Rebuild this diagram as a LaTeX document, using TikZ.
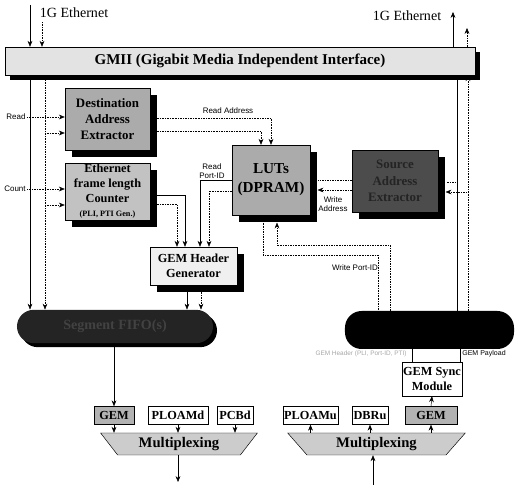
\documentclass[tikz,border=0pt]{standalone}
\usepackage{fontspec}
\setmainfont{Liberation Serif}
\setsansfont{Liberation Sans}
\usetikzlibrary{shapes.geometric,shadows,arrows.meta}

\tikzset{
  gmiibar/.style={draw, fill=gray!22, minimum width=14.1cm, minimum height=0.84cm,
    font=\bfseries\fontsize{12.8}{14}\selectfont,
    drop shadow={shadow xshift=0.15cm, shadow yshift=-0.15cm, fill=black, opacity=1}},
  blockbox/.style={draw, align=center, inner sep=1pt, font=\bfseries\fontsize{11}{14}\selectfont,
    drop shadow={shadow xshift=0.22cm, shadow yshift=-0.22cm, fill=black, opacity=1}},
  fifo/.style={rounded corners=0.5cm, fill=black},
  smallbox/.style={draw, minimum height=0.54cm, inner sep=1pt, font=\bfseries\fontsize{10.5}{12}\selectfont},
  muxbox/.style={trapezium, draw, fill=gray!40, shape border rotate=180, trapezium angle=60,
    trapezium stretches=true, minimum height=0.66cm, font=\bfseries\fontsize{12.5}{14}\selectfont},
  sig/.style={font=\sffamily\fontsize{6.8}{7.8}\selectfont, inner sep=1pt},
  ctl/.style={densely dotted}
}

\begin{document}
\begin{tikzpicture}[x=0.03cm, y=-0.03cm, >={Stealth[length=5pt,width=4pt]}]
    \useasboundingbox (0,0) rectangle (519,486);

    % blocks
    \node[gmiibar] (gmii) at (240,61) {GMII (Gigabit Media Independent Interface)};
    \node[blockbox, fill=gray!66, minimum width=2.55cm, minimum height=1.86cm] (dae) at (107.5,119) {Destination\\Address\\Extractor};
    \node[blockbox, fill=gray!48, minimum width=2.55cm, minimum height=1.71cm, font=\bfseries\fontsize{10.5}{12.5}\selectfont] (efc) at (107.5,191.5) {Ethernet\\frame length\\Counter\\{\fontsize{7}{8}\selectfont (PLI, PTI Gen.)}};
    \node[blockbox, fill=gray!66, minimum width=2.34cm, minimum height=2.1cm, font=\bfseries\fontsize{13}{16}\selectfont] (lut) at (271,180) {LUTs\\(DPRAM)};
    \node[blockbox, fill=black!70, text=black!86, minimum width=2.58cm, minimum height=1.86cm] (sae) at (395,181) {Source\\Address\\Extractor};
    \node[blockbox, fill=gray!12, minimum width=2.61cm, minimum height=1.14cm, font=\bfseries\fontsize{10.5}{13}\selectfont] (ghg) at (193.5,266) {GEM Header\\Generator};
    \node[fifo, fill=black!86, text=black!74, minimum width=5.88cm, minimum height=1.0cm, font=\bfseries\fontsize{12}{14}\selectfont,
        drop shadow={shadow xshift=0.12cm, shadow yshift=-0.12cm, fill=black, opacity=1}] (sfifo) at (115,326.5) {Segment FIFO(s)};
    \node[fifo, minimum width=5.07cm, minimum height=1.14cm] (rfifo) at (429.5,330) {};

    % left output side
    \node[smallbox, fill=gray!60, minimum width=1.2cm] (gemL) at (114,415.5) {GEM};
    \node[smallbox, minimum width=1.8cm] (ploamd) at (178,415.5) {PLOAMd};
    \node[smallbox, minimum width=1.08cm] (pcbd) at (235,415.5) {PCBd};
    \node[muxbox, minimum width=4.74cm] (muxL) at (179,444) {Multiplexing};

    % right input side
    \node[smallbox, minimum width=1.59cm] (ploamu) at (310.5,415.5) {PLOAMu};
    \node[smallbox, minimum width=1.08cm] (dbru) at (370,415.5) {DBRu};
    \node[smallbox, fill=gray!60, minimum width=1.56cm] (gemR) at (431,415.5) {GEM};
    \node[smallbox, minimum width=1.74cm, minimum height=1.02cm, align=center, font=\bfseries\fontsize{10.5}{13}\selectfont] (gsm) at (432,379) {GEM Sync\\Module};
    \node[muxbox, minimum width=5.37cm] (muxR) at (376.5,444) {Multiplexing};

    % labels
    \node[font=\fontsize{12}{14}\selectfont] (ethL) at (74,13) {1G Ethernet};
    \node[font=\fontsize{12}{14}\selectfont] (ethR) at (407,16) {1G Ethernet};
    \node[sig] (rd) at (16,117) {Read};
    \node[sig] (cnt) at (15,189) {Count};
    \node[sig] (rda) at (228,111) {Read Address};
    \node[sig, align=center] (rpid) at (212,171) {Read\\Port-ID};
    \node[sig, align=center] (wadr) at (333,204) {Write\\Address};
    \node[sig] (wpid) at (355,268) {Write Port-ID};
    \node[sig, text=gray!70, font=\sffamily\fontsize{5.5}{6.5}\selectfont] (ghdr) at (361,354) {GEM Header (PLI, Port-ID, PTI)};
    \node[sig, font=\sffamily\fontsize{6}{7}\selectfont] (gpay) at (484,354) {GEM Payload};

    % points used by the connectors
    \coordinate (inA) at (30,5);
    \coordinate (inB) at (42,22);
    \coordinate (outA) at (453,12);
    \coordinate (outB) at (467,28);
    \coordinate (busA) at (30,0);
    \coordinate (busB) at (45,0);
    \coordinate (busC) at (457,0);
    \coordinate (busD) at (468,0);
    \coordinate (rdB) at (45,133);
    \coordinate (cntB) at (45,205);
    \coordinate (raA) at (271,118);
    \coordinate (raB) at (261,131);
    \coordinate (rpA) at (200,180);
    \coordinate (rpB) at (209,191);
    \coordinate (ecA) at (185,195);
    \coordinate (ecB) at (177,204);
    \coordinate (ghA) at (187,0);
    \coordinate (ghB) at (201,0);
    \coordinate (wpA) at (263,255);
    \coordinate (wpB) at (378,255);
    \coordinate (wpC) at (390,245);
    \coordinate (wpD) at (277,245);
    \coordinate (wa1) at (335,180);
    \coordinate (wa2) at (335,190);
    \coordinate (sa1) at (450,182);
    \coordinate (sa2) at (450,192);
    \coordinate (ghx) at (412,0);
    \coordinate (gpx) at (460,0);
    \coordinate (outL) at (178,482);
    \coordinate (inR) at (373,485);
    \coordinate (lutS) at ([yshift=-0.22cm]lut.south);
    \coordinate (lutE) at ([xshift=0.22cm]lut.east);
    \coordinate (saeE) at ([xshift=0.22cm]sae.east);

    % ethernet ports
    \draw[->] (inA) -- (inA |- gmii.north);
    \draw[->, ctl] (inB) -- (inB |- gmii.north);
    \draw[->] (outA |- gmii.north) -- (outA);
    \draw[->, ctl] (outB |- gmii.north) -- (outB);

    % buses
    \draw[->] (busA |- gmii.south) -- (busA |- sfifo.north);
    \draw[->, ctl] (busB |- gmii.south) -- (busB |- sfifo.north);
    \draw (busC |- gmii.south) -- (busC |- rfifo.north);
    \draw[->, ctl] (busD |- rfifo.north) -- (busD |- gmii.south);

    % extractor and counter inputs
    \draw[->, ctl] (rd.east) -- (rd.east -| dae.west);
    \draw[->, ctl] (rdB) -- (rdB -| dae.west);
    \draw[->, ctl] (cnt.east) -- (cnt.east -| efc.west);
    \draw[->, ctl] (cntB) -- (cntB -| efc.west);

    % read address
    \draw[->, ctl] (raA -| dae.east) -- (raA) -- (raA |- lut.north);
    \draw[->, ctl] (raB -| dae.east) -- (raB) -- (raB |- lut.north);

    % into the header generator
    \draw[->] (rpA -| lut.west) -- (rpA) -- (rpA |- ghg.north);
    \draw[->, ctl] (rpB -| lut.west) -- (rpB) -- (rpB |- ghg.north);
    \draw[->] (ecA -| efc.east) -- (ecA) -- (ecA |- ghg.north);
    \draw[->, ctl] (ecB -| efc.east) -- (ecB) -- (ecB |- ghg.north);
    \draw[->] (ghA |- ghg.south) -- (ghA |- sfifo.north);
    \draw[->, ctl] (ghB |- ghg.south) -- (ghB |- sfifo.north);

    % write side
    \draw[ctl] (wpA |- lutS) -- (wpA) -- (wpB) -- (wpB |- rfifo.north);
    \draw[->, ctl] (wpC |- rfifo.north) -- (wpC) -- (wpD) -- (wpD |- lutS);
    \draw[ctl] (wa1 -| sae.west) -- (wa1 -| lutE);
    \draw[->, ctl] (wa2 -| sae.west) -- (wa2 -| lutE);
    \draw[ctl] (sa1 -| busC) -- (sa1 -| saeE);
    \draw[->, ctl] (sa2 -| busD) -- (sa2 -| saeE);

    % downstream
    \draw[->] (sfifo.south -| gemL) -- (gemL.north);
    \foreach \b in {gemL, ploamd, pcbd}
        \draw[->] (\b.south) -- (\b.south |- muxL.north);
    \draw[->] (muxL.south -| outL) -- (outL);

    % upstream
    \foreach \b in {ploamu, dbru, gemR}
        \draw[->] (\b.south |- muxR.north) -- (\b.south);
    \draw[->] (inR) -- (inR |- muxR.south);
    \draw[->] (gemR.north) -- (gsm.south);
    \draw (ghx |- rfifo.south) -- (ghx |- gsm.north);
    \draw (gpx |- rfifo.south) -- (gpx |- gsm.north);
\end{tikzpicture}
\end{document}
